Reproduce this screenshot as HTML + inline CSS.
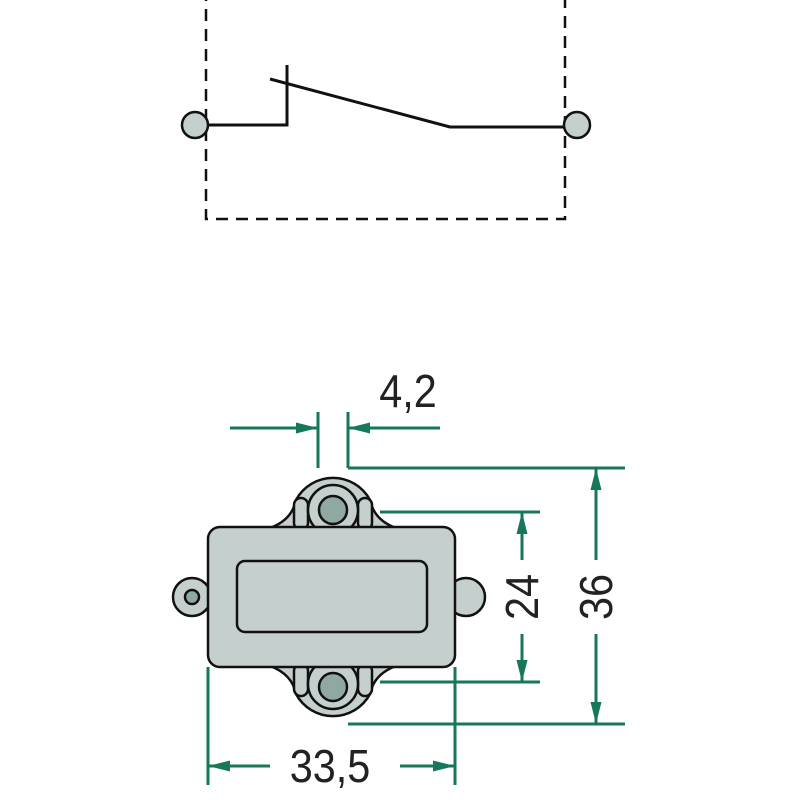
<!DOCTYPE html><html><head><style>body{margin:0;background:#fff}svg{display:block}</style></head><body>
<svg width="800" height="800" viewBox="0 0 800 800" xmlns="http://www.w3.org/2000/svg">
<defs>
<marker id="b" viewBox="0 0 20 10" refX="20" refY="5" markerWidth="22" markerHeight="12" orient="auto-start-reverse" markerUnits="userSpaceOnUse"><path d="M0,0L20,5L0,10z" fill="#17775a"/></marker></defs>
<!-- schematic -->
<rect x="206" y="-5" width="359" height="224" fill="none" stroke="#111" stroke-width="2.5" stroke-dasharray="12 8"/>
<g stroke="#111" stroke-width="3" fill="none">
<path d="M208,125H287V65"/><path d="M270,79L450,127H565"/></g>
<circle cx="195" cy="125" r="13" fill="#c5cfcd" stroke="#111" stroke-width="2.5"/>
<circle cx="577" cy="125" r="13" fill="#c5cfcd" stroke="#111" stroke-width="2.5"/>
<!-- dims -->
<g stroke="#17775a" stroke-width="3" fill="none">
<path d="M318,412V468M348,412V468"/>
<path d="M230,428H318" marker-end="url(#b)"/><path d="M440,428H348" marker-end="url(#b)"/>
<path d="M348,468H625M380,512H540M380,682H540M348,724H625"/>
<path d="M522,512V682" marker-start="url(#b)" marker-end="url(#b)"/>
<path d="M596,468V724" marker-start="url(#b)" marker-end="url(#b)"/>
<path d="M208,667V785M455,667V785"/>
<path d="M208,766H270" marker-start="url(#b)"/><path d="M400,766H455" marker-end="url(#b)"/>
</g>
<rect x="505" y="560" width="34" height="74" fill="#fff"/>
<rect x="579" y="560" width="34" height="74" fill="#fff"/>
<g font-family="Liberation Sans Narrow, Liberation Sans, sans-serif" font-size="46" fill="#222">
<text x="408" y="407" text-anchor="middle" transform="translate(408,0) scale(0.9,1) translate(-408,0)">4,2</text>
<text x="330" y="782" text-anchor="middle" transform="translate(330,0) scale(0.9,1) translate(-330,0)">33,5</text>
<text transform="translate(538,597) rotate(-90) scale(0.9,1)" text-anchor="middle">24</text>
<text transform="translate(612,597) rotate(-90) scale(0.9,1)" text-anchor="middle">36</text>
</g>
<!-- component -->
<g stroke="#111" stroke-width="2.5" fill="#c5cfcd">
<circle cx="192" cy="597" r="19"/><circle cx="466" cy="597" r="19"/>
<path d="M270,528 Q292,520 296,500 A42,42 0 0 1 370,500 Q374,520 396,528Z"/>
<path d="M270,666 Q292,674 296,694 A42,42 0 0 0 370,694 Q374,674 396,666Z"/>
<rect x="294" y="498" width="14" height="32" rx="7"/><rect x="358" y="498" width="14" height="32" rx="7"/>
<rect x="294" y="664" width="14" height="32" rx="7"/><rect x="358" y="664" width="14" height="32" rx="7"/>
<circle cx="333" cy="510" r="25"/><circle cx="333" cy="684" r="25"/>
<rect x="208" y="527" width="247" height="140" rx="12"/>
<rect x="237" y="561" width="190" height="71" rx="8"/>
<circle cx="333" cy="510" r="14" fill="#8fa9a2"/><circle cx="333" cy="687" r="14" fill="#8fa9a2"/>
<circle cx="192" cy="597" r="7" fill="#8fa9a2"/>
</g>
</svg></body></html>
